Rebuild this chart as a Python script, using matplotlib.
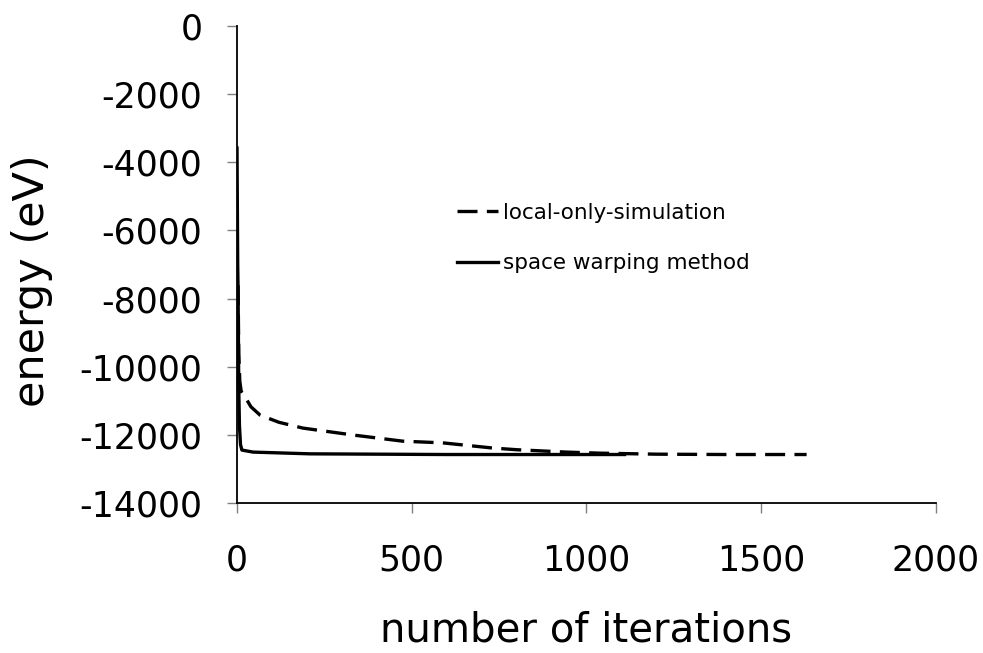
import matplotlib
matplotlib.use('Agg')
import matplotlib.pyplot as plt

# local-only-simulation (dashed)
local_x = [3, 5, 8, 12, 23, 40, 66, 120, 189, 331, 474, 589, 731, 800, 943, 1037, 1200, 1400, 1630]
local_y = [-7606, -9618, -10424, -10725, -10886, -11178, -11420, -11631, -11802, -12003,
           -12185, -12235, -12386, -12436, -12506, -12537, -12567, -12577, -12577]

# space warping method (solid)
warp_x = [0, 2, 3, 4, 5, 7, 10, 14, 46, 209, 600, 1109]
warp_y = [-3581, -7002, -7707, -9115, -10625, -11732, -12285, -12446, -12506, -12557, -12577, -12577]

x_ticks = [0, 500, 1000, 1500, 2000]
y_ticks = [0, -2000, -4000, -6000, -8000, -10000, -12000, -14000]

plt.rcParams['font.family'] = ['DejaVu Sans']
plt.rcParams['axes.unicode_minus'] = False

fig = plt.figure(figsize=(9.83, 6.53), dpi=100)
ax = fig.add_axes([0.2411, 0.2297, 0.711, 0.7305])

ax.plot(local_x, local_y, color='black', lw=2.4, dashes=(6, 2.8),
        label='local-only-simulation')
ax.plot(warp_x, warp_y, color='black', lw=2.4, label='space warping method')

ax.set_xlim(0, 2000)
ax.set_ylim(-14000, 0)
ax.set_xticks(x_ticks)
ax.set_yticks(y_ticks)

for s in ['top', 'right']:
    ax.spines[s].set_visible(False)
for s in ['left', 'bottom']:
    ax.spines[s].set_linewidth(1.3)
    ax.spines[s].set_color('black')

ax.tick_params(axis='both', direction='out', length=7, width=1, color='#808080',
               labelsize=25)
ax.tick_params(axis='y', pad=18)
ax.tick_params(axis='x', pad=22)

ax.set_xlabel('number of iterations', fontsize=29)
ax.xaxis.set_label_coords(0.5, -0.225)
ax.set_ylabel('energy (eV)', fontsize=31)
ax.yaxis.set_label_coords(-0.263, 0.467)

ax.legend(loc='upper left', bbox_to_anchor=(0.303, 0.647), frameon=False,
          fontsize=15.5, handlelength=1.9, handletextpad=0.2, labelspacing=1.4,
          borderaxespad=0)

fig.savefig('out.png', dpi=100)
